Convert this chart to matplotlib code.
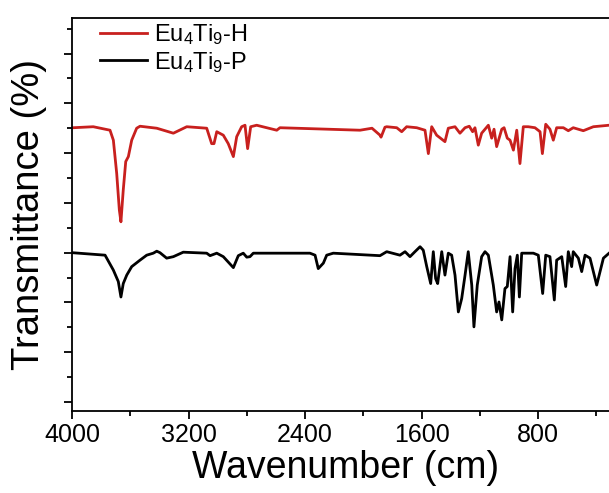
import matplotlib
matplotlib.use("Agg")
import matplotlib.pyplot as plt
from matplotlib.ticker import MultipleLocator, NullFormatter

plt.rcParams['font.family'] = ['Liberation Sans', 'DejaVu Sans']
plt.rcParams['mathtext.default'] = 'regular'

# espectro Eu4Ti9-H (rojo)
wn_h = [3991, 3854, 3739, 3716, 3693, 3675, 3664, 3648, 3631, 3613, 3590, 3556, 3533,
        3418, 3304, 3212, 3075, 3041, 3025, 3006, 2961, 2927, 2892, 2869, 2835, 2812,
        2794, 2773, 2732, 2594, 2572, 2022, 1940, 1885, 1878, 1851, 1839, 1770, 1736,
        1702, 1633, 1576, 1553, 1530, 1496, 1439, 1416, 1370, 1336, 1301, 1272, 1249,
        1233, 1210, 1187, 1164, 1141, 1118, 1102, 1084, 1049, 1033, 1011, 992, 969,
        946, 924, 901, 867, 821, 786, 770, 747, 718, 695, 672, 626, 592, 558, 489,
        420, 312]
t_h = [55.1, 55.3, 54.6, 52.6, 45.9, 38.6, 36.2, 42.6, 48.3, 49.3, 52.6, 55.0, 55.4,
       55.0, 54.0, 55.3, 55.0, 51.9, 51.9, 54.3, 53.6, 51.9, 49.3, 53.3, 55.3, 55.6,
       50.9, 55.3, 55.6, 54.6, 55.1, 54.6, 55.0, 53.6, 53.2, 55.2, 55.3, 55.1, 54.3,
       55.3, 55.1, 54.6, 49.9, 55.3, 53.6, 52.3, 55.0, 55.3, 54.0, 55.1, 55.4, 54.3,
       55.1, 51.6, 54.0, 54.8, 55.6, 53.0, 54.8, 51.3, 54.8, 55.1, 53.0, 52.6, 50.6,
       54.6, 47.9, 55.3, 55.3, 55.1, 54.3, 49.9, 55.8, 54.8, 52.6, 55.1, 55.1, 54.5,
       55.1, 54.5, 55.3, 55.6]

# espectro Eu4Ti9-P (negro)
wn_p = [4000, 3773, 3716, 3682, 3664, 3648, 3624, 3590, 3533, 3487, 3442, 3418, 3396,
        3350, 3304, 3236, 3075, 3052, 3006, 2961, 2892, 2858, 2824, 2800, 2778, 2755,
        2366, 2331, 2309, 2274, 2251, 2206, 1885, 1839, 1748, 1713, 1679, 1645, 1610,
        1588, 1564, 1537, 1519, 1503, 1489, 1461, 1439, 1416, 1393, 1370, 1347, 1324,
        1301, 1279, 1255, 1240, 1217, 1187, 1164, 1141, 1107, 1084, 1068, 1049, 1027,
        1011, 992, 974, 958, 942, 928, 912, 878, 832, 798, 768, 747, 718, 688, 672,
        637, 610, 592, 569, 558, 523, 500, 477, 443, 397, 351, 312]
t_p = [30.0, 29.5, 26.5, 24.2, 21.1, 23.8, 25.5, 27.2, 28.5, 29.5, 29.9, 30.3, 30.0,
       28.9, 29.2, 30.1, 29.9, 29.4, 29.9, 29.2, 27.0, 29.4, 29.9, 29.1, 29.2, 29.9,
       29.9, 29.5, 26.8, 27.9, 29.5, 29.9, 29.4, 30.2, 29.5, 30.2, 29.2, 30.2, 31.2,
       30.5, 27.2, 23.8, 30.2, 24.8, 23.8, 30.2, 25.5, 29.9, 29.5, 25.5, 18.1, 20.8,
       25.5, 30.2, 23.5, 15.1, 23.5, 29.2, 30.2, 29.5, 23.5, 18.1, 20.1, 16.5, 22.8,
       23.2, 29.2, 18.1, 26.8, 29.5, 21.1, 29.9, 29.9, 29.9, 29.5, 21.8, 29.5, 29.2,
       20.5, 28.5, 29.2, 23.2, 30.2, 27.2, 30.2, 28.9, 26.2, 29.5, 28.9, 23.5, 28.9,
       29.9]

x_ticks = [4000, 3200, 2400, 1600, 800]

fig = plt.figure(figsize=(6.09, 4.93), dpi=100)
ax = fig.add_axes([72/609, 82/493, (620-72)/609, 393.3/493])

ax.plot(wn_h, t_h, color='#c8201e', lw=2.0, label='Eu$_4$Ti$_9$-H')
ax.plot(wn_p, t_p, color='black', lw=2.0, label='Eu$_4$Ti$_9$-P')

ax.set_xlim(4000, 237)
ax.set_ylim(-1.8, 77.2)
ax.set_xticks(x_ticks)
ax.xaxis.set_minor_locator(MultipleLocator(400))
ax.yaxis.set_major_locator(MultipleLocator(10))
ax.yaxis.set_minor_locator(MultipleLocator(5))
ax.yaxis.set_major_formatter(NullFormatter())

for s in ax.spines.values():
    s.set_linewidth(1.3)
ax.spines['right'].set_visible(False)
ax.tick_params(which='major', direction='out', length=6, width=1.3, labelsize=18, pad=3)
ax.tick_params(which='minor', direction='out', length=3.5, width=1.3)
ax.tick_params(right=False, top=False)

ax.set_xlabel('Wavenumber (cm)', fontsize=27, labelpad=2)
ax.set_ylabel('Transmittance (%)', fontsize=27.5, labelpad=9)

ax.legend(loc='upper left', bbox_to_anchor=(0.025, 1.024), frameon=False, fontsize=17,
          handlelength=2.0, handletextpad=0.3, labelspacing=0.1, borderaxespad=0.2)

fig.savefig('out.png', dpi=100)
